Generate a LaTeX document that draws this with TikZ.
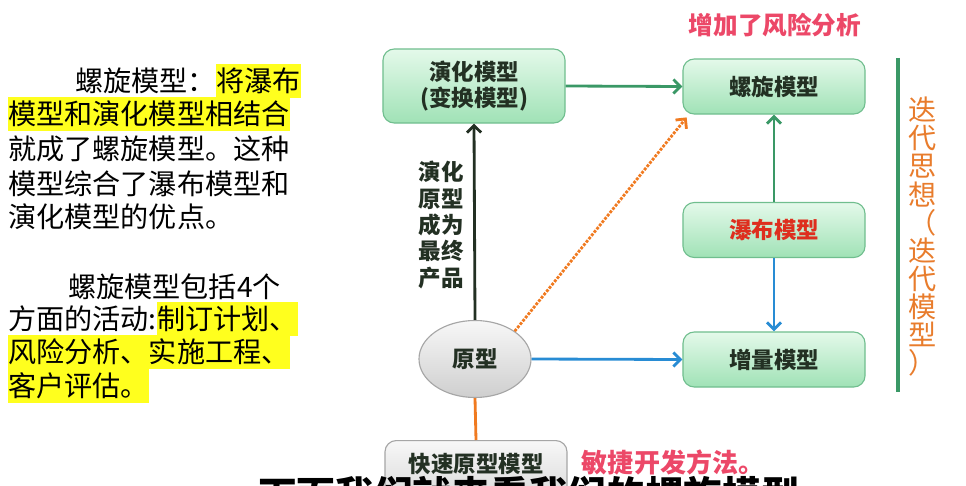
\documentclass[tikz,border=0pt]{standalone}
\usepackage{fontspec}
\newfontfamily\cjk{Noto Sans CJK SC}
\usetikzlibrary{arrows.meta, shapes.geometric}
\definecolor{hlyellow}{RGB}{255,255,30}
\definecolor{boxtop}{RGB}{228,249,234}
\definecolor{boxbot}{RGB}{160,226,182}
\definecolor{boxline}{RGB}{112,190,142}
\definecolor{boxtext}{RGB}{35,48,35}
\definecolor{gline}{RGB}{58,152,102}
\definecolor{bline}{RGB}{40,140,212}
\definecolor{oline}{RGB}{240,122,32}
\definecolor{pinktxt}{RGB}{236,72,104}
\definecolor{redtxt}{RGB}{222,46,30}
\definecolor{vtxt}{RGB}{232,124,44}

\begin{document}
\begin{tikzpicture}[x=0.025cm, y=-0.025cm, >={Straight Barb[length=5pt,width=10pt]}, font=\cjk,
    txt/.style={anchor=west, inner xsep=0pt, inner ysep=0pt, minimum height=0.84cm, font=\cjk\fontsize{20}{24}\selectfont},
    hl/.style={txt, fill=hlyellow},
    mbox/.style={draw=boxline, line width=0.8pt, rounded corners=8pt, top color=boxtop, bottom color=boxbot,
        minimum width=4.55cm, minimum height=1.375cm, align=center, text=boxtext,
        font=\cjk\bfseries\fontsize{16}{18}\selectfont},
    gbox/.style={mbox, draw=gray!70, top color=gray!6, bottom color=gray!30},
    lbl/.style={text=boxtext, align=center, font=\cjk\bfseries\fontsize{16}{18.8}\selectfont},
    vch/.style={text=vtxt, inner sep=0pt, font=\cjk\fontsize{20}{24}\selectfont},
    arr/.style={->, line width=2pt}]
    \useasboundingbox (0,0) rectangle (966,486);

    \node[txt] (a1) at (75,81) {螺旋模型：};
    \node[hl] (a1h) at (a1.east) {将瀑布};
    \node[hl] (a2) at (8,114) {模型和演化模型相结合};
    \node[txt] (a3) at (8,149) {就成了螺旋模型。这种};
    \node[txt] (a4) at (8,184) {模型综合了瀑布模型和};
    \node[txt] (a5) at (8,217) {演化模型的优点。};

    \node[txt] (b1) at (68,287) {螺旋模型包括4个};
    \node[txt] (b2) at (8,319) {方面的活动:};
    \node[hl] (b2h) at (b2.east) {制订计划、};
    \node[hl] (b3) at (8,352) {风险分析、实施工程、};
    \node[hl] (b4) at (8,386) {客户评估。};

    \node[mbox, minimum height=1.85cm] (yh) at (474,86) {演化模型\\(变换模型)};
    \node[mbox] (lx) at (774,86.5) {螺旋模型};
    \node[mbox, text=redtxt] (pb) at (774,230) {瀑布模型};
    \node[mbox] (zl) at (774,359.5) {增量模型};
    \node[ellipse, draw=gray!70, line width=0.8pt, top color=gray!6, bottom color=gray!38,
        minimum width=2.8cm, minimum height=1.925cm, text=boxtext,
        font=\cjk\bfseries\fontsize{16}{18}\selectfont] (yx) at (475,359) {原型};
    \node[gbox, anchor=north, inner sep=0.1cm, text height=0.7cm, text depth=0.6cm,
        minimum height=0cm] (ks) at (476,440) {快速原型模型};

    \node[lbl] (yc) at (441,225) {演化\\原型\\成为\\最终\\产品};
    \node[font=\cjk\bfseries\fontsize{17.5}{20}\selectfont, text=pinktxt] (zj) at (775,25) {增加了风险分析};
    \node[anchor=west, font=\cjk\bfseries\fontsize{18.5}{20}\selectfont, text=pinktxt] (mj) at (577,462) {敏捷开发方法。};

    \draw[arr, gline] (yh.east) -- (lx.west);
    \draw[arr, gline] (pb.north) -- (lx.south);
    \draw[arr, bline] (pb.south) -- (zl.north);
    \draw[arr, bline] (yx.east) -- (zl.west);
    \draw[arr, boxtext] (yx.north) -- (yh.south);
    \draw[arr, oline, densely dotted] (yx.35) -- ([xshift=3pt,yshift=-2pt]lx.south west);
    \draw[oline, line width=2pt] (yx.south) -- (ks.north);

    \draw[gline, line width=2.2pt] (898,58) -- (898,392);
    \foreach \c [count=\i from 0] in {迭,代,思,想,（,迭,代,模,型,）}
        \node[vch] (v\i) at (923,110+28.1*\i) {\c};

    \node[font=\cjk\bfseries\fontsize{27.5}{30}\selectfont] (zm) at (529,495) {下面我们就来看我们的螺旋模型};
\end{tikzpicture}
\end{document}
